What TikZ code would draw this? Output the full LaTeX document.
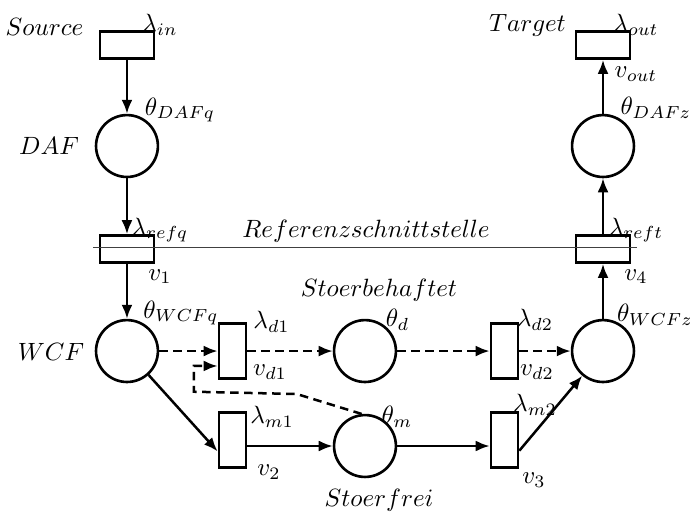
\documentclass[tikz,border=0pt]{standalone}
\usetikzlibrary{arrows.meta}
\tikzset{
  place/.style={circle,draw,line width=1.05pt,minimum size=0.87cm,inner sep=0pt},
  htrans/.style={rectangle,draw,line width=1.05pt,minimum width=0.76cm,minimum height=0.38cm,inner sep=0pt},
  vtrans/.style={rectangle,draw,line width=1.05pt,minimum width=0.38cm,minimum height=0.77cm,inner sep=0pt},
  flow/.style={->,line width=1pt},
  stoer/.style={->,line width=1pt,dash pattern=on 3.4pt off 2.2pt}
}
\begin{document}
\begin{tikzpicture}[>={Latex[length=5.6pt,width=4.4pt]}]
    \useasboundingbox (0,0) rectangle (9.70,7.184);
    % --- places and transitions ---
    \node[htrans] (src)  at (1.785,6.551) {};
    \node[place]  (daf)  at (1.785,5.131) {};
    \node[htrans] (refq) at (1.785,3.683) {};
    \node[place]  (wcfq) at (1.785,2.249) {};
    \node[vtrans] (d1)   at (3.268,2.249) {};
    \node[place]  (d)    at (5.131,2.249) {};
    \node[vtrans] (d2)   at (7.092,2.249) {};
    \node[vtrans] (m1)   at (3.268,0.998) {};
    \node[place]  (m)    at (5.131,0.914) {};
    \node[vtrans] (m2)   at (7.092,0.998) {};
    \node[place]  (wcfz) at (8.477,2.249) {};
    \node[htrans] (reft) at (8.477,3.683) {};
    \node[place]  (dafz) at (8.477,5.131) {};
    \node[htrans] (tgt)  at (8.477,6.551) {};
    % --- reference interface ---
    \coordinate (refL) at (1.31,3.705);
    \coordinate (refR) at (8.96,3.705);
    \draw[black!75,line width=0.6pt] (refL) -- (refR);
    % --- source side ---
    \draw[flow] (src) -- (daf);
    \draw[flow] (daf) -- (refq);
    \draw[flow] (refq) -- (wcfq);
    % --- disturbed branch ---
    \draw[stoer] (wcfq) -- (d1);
    \draw[stoer] (d1) -- (d);
    \draw[stoer] (d) -- (d2);
    \draw[stoer] (d2) -- (wcfz);
    \coordinate (bendA) at (4.171,1.645);
    \coordinate (bendB) at (2.727,1.677);
    \draw[stoer] (m.96) -- (bendA) -- (bendB) |- ([yshift=-0.21cm]d1.west);
    % --- undisturbed branch ---
    \draw[flow] (wcfq) -- ([yshift=-0.16cm]m1.west);
    \draw[flow] (m1.east |- m) -- (m);
    \draw[flow] (m) -- (m -| m2.west);
    \draw[flow] ([yshift=-0.15cm]m2.east) -- (wcfz);
    % --- target side ---
    \draw[flow] (wcfz) -- (reft);
    \draw[flow] (reft) -- (dafz);
    \draw[flow] (dafz) -- (tgt);
    % --- labels ---
    \node (lsrc)   at (0.626,6.803) {$Source$};
    \node (llin)   at (2.249,6.832) {$\lambda_{in}$};
    \node (ltdq)   at (2.530,5.637) {$\theta_{DAFq}$};
    \node (ldaf)   at (0.689,5.131) {$DAF$};
    \node (llrq)   at (2.249,3.950) {$\lambda_{refq}$};
    \node (lref)   at (5.145,3.936) {$Referenzschnittstelle$};
    \node (lv1)    at (2.249,3.294) {$v_1$};
    \node (ltgt)   at (7.415,6.832) {$Target$};
    \node (llout)  at (8.941,6.832) {$\lambda_{out}$};
    \node (lvout)  at (8.941,6.143) {$v_{out}$};
    \node (ltdz)   at (9.222,5.665) {$\theta_{DAFz}$};
    \node (llrt)   at (8.941,3.950) {$\lambda_{reft}$};
    \node (lv4)    at (8.941,3.294) {$v_4$};
    \node (lwcf)   at (0.717,2.239) {$WCF$};
    \node (ltwq)   at (2.544,2.783) {$\theta_{WCFq}$};
    \node (lstb)   at (5.328,3.107) {$Stoerbehaftet$};
    \node (lld1)   at (3.817,2.661) {$\lambda_{d1}$};
    \node (lvd1)   at (3.796,1.958) {$v_{d1}$};
    \node (ltd)    at (5.588,2.685) {$\theta_d$};
    \node (lld2)   at (7.521,2.685) {$\lambda_{d2}$};
    \node (lvd2)   at (7.549,1.958) {$v_{d2}$};
    \node (ltwz)   at (9.208,2.755) {$\theta_{WCFz}$};
    \node (llm1)   at (3.824,1.326) {$\lambda_{m1}$};
    \node (ltm)    at (5.581,1.326) {$\theta_m$};
    \node (llm2)   at (7.521,1.490) {$\lambda_{m2}$};
    \node (lv2)    at (3.782,0.552) {$v_2$};
    \node (lv3)    at (7.507,0.436) {$v_3$};
    \node (lstf)   at (5.328,0.155) {$Stoerfrei$};
  \end{tikzpicture}
\end{document}
